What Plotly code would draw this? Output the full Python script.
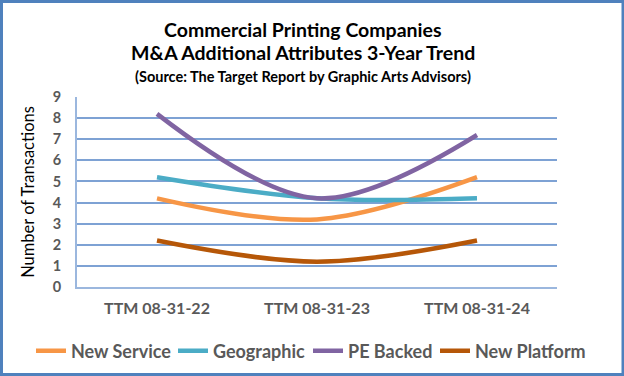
import plotly.graph_objects as go

categories = ["TTM 08-31-22", "TTM 08-31-23", "TTM 08-31-24"]
new_service = [4.2, 3.2, 5.2]
geographic = [5.2, 4.2, 4.2]
pe_backed = [8.2, 4.2, 7.2]
new_platform = [2.2, 1.2, 2.2]

series = [
    ("New Service", new_service, "#F79646"),
    ("Geographic", geographic, "#4BACC6"),
    ("PE Backed", pe_backed, "#8064A2"),
    ("New Platform", new_platform, "#B65708"),
]

W, H = 624, 376
L, R, T, B = 77, 67, 97, 89
pw, ph = W - L - R, H - T - B

font_main = "Lato"
legend_line_starts = [36, 178, 313, 440]
legend_ids = ["legend", "legend2", "legend3", "legend4"]

fig = go.Figure()
for (name, vals, col), lid in zip(series, legend_ids):
    fig.add_trace(go.Scatter(
        x=categories, y=vals, name=name, mode="lines", legend=lid,
        line=dict(color=col, width=4.5, shape="spline", smoothing=1.0),
    ))

legend_common = dict(orientation="h", xref="container", yref="container",
                     xanchor="left", y=1 - 351 / H, yanchor="middle",
                     font=dict(family=font_main, size=18, color="#595959", weight="bold"),
                     itemwidth=30, bgcolor="rgba(0,0,0,0)", borderwidth=0)
legend_layout = {}
for lid, xs in zip(legend_ids, legend_line_starts):
    legend_layout[lid] = dict(legend_common, x=(xs - 5) / W)

fig.update_layout(
    width=W, height=H,
    margin=dict(l=L, r=R, t=T, b=B, autoexpand=False),
    paper_bgcolor="white", plot_bgcolor="white",
    showlegend=True,
    xaxis=dict(
        type="category", range=[-0.5, 2.5], showgrid=False,
        showline=True, linecolor="#9BB7DE", linewidth=2, automargin=False,
        tickfont=dict(family=font_main, size=16, color="#595959", weight="bold"),
        ticks="", ticklabelstandoff=6, fixedrange=True,
    ),
    yaxis=dict(
        range=[0, 9], dtick=1, showgrid=True, gridcolor="#7EA2D4", gridwidth=1.5,
        showline=True, linecolor="#9BB7DE", linewidth=2, zeroline=False, automargin=False,
        tickfont=dict(family=font_main, size=14.5, color="#595959", weight="bold"),
        ticks="", ticklabelstandoff=11,
        title=dict(text="Number of Transactions", font=dict(family=font_main, size=16.5, color="black"), standoff=14),
    ),
    **legend_layout,
)

title_lines = [
    ("Commercial Printing Companies", 19.5, 29),
    ("M&A Additional Attributes 3-Year Trend", 19.5, 53),
    ("(Source: The Target Report by Graphic Arts Advisors)", 14.5, 76),
]
for text, size, ypix in title_lines:
    fig.add_annotation(
        text=f"<b>{text}</b>", xref="paper", yref="paper",
        x=(303 - L) / pw, y=(T + ph - ypix) / ph, xanchor="center", yanchor="middle",
        showarrow=False, font=dict(family=font_main, size=size, color="black"),
    )

# outer frame
fig.add_shape(type="rect", xref="paper", yref="paper",
              x0=(1.5 - L) / pw, x1=(W - 1 - L) / pw,
              y0=(T + ph - (H - 1.5)) / ph, y1=(T + ph - 1.5) / ph,
              line=dict(color="#4F81BD", width=3), fillcolor="rgba(0,0,0,0)", layer="below")

fig.write_html("out.html", config={"displayModeBar": False},
               post_script="document.body.style.margin='0';")
